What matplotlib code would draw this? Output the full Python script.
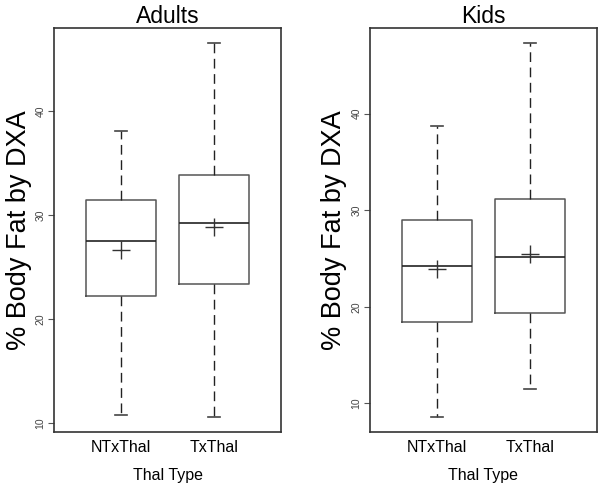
import matplotlib
matplotlib.use('Agg')
import matplotlib.pyplot as plt

plt.rcParams['font.family'] = ['Liberation Sans', 'DejaVu Sans']

# group names and box statistics
groups = ['NTxThal', 'TxThal']

adults_whislo = [10.8, 10.6]
adults_q1 = [22.2, 23.4]
adults_med = [27.5, 29.2]
adults_mean = [26.6, 28.9]
adults_q3 = [31.5, 33.9]
adults_whishi = [38.1, 46.6]

kids_whislo = [8.6, 11.5]
kids_q1 = [18.4, 19.3]
kids_med = [24.2, 25.1]
kids_mean = [23.9, 25.5]
kids_q3 = [29.0, 31.1]
kids_whishi = [38.7, 47.3]

yticks = [10, 20, 30, 40]


def make_stats(lo, q1, med, mean, q3, hi):
    out = []
    for i in range(len(groups)):
        out.append({'label': groups[i], 'whislo': lo[i], 'q1': q1[i], 'med': med[i],
                    'mean': mean[i], 'q3': q3[i], 'whishi': hi[i], 'fliers': []})
    return out


def draw_panel(ax, stats, title, ylim):
    edge = '#555555'
    ax.bxp(stats, positions=[1, 2], widths=0.75, showmeans=True, patch_artist=False,
           boxprops=dict(color=edge, linewidth=1.1),
           medianprops=dict(color='#222222', linewidth=1.2),
           whiskerprops=dict(color='#222222', linewidth=1, linestyle=(0, (7, 4))),
           capprops=dict(color='#444444', linewidth=1.2),
           capwidths=0.12,
           meanprops=dict(marker='+', markersize=13, markeredgecolor='#333333',
                          markeredgewidth=1))
    ax.set_xlim(0.28, 2.72)
    ax.set_ylim(*ylim)
    ax.set_yticks(yticks)
    ax.set_yticklabels([str(t) for t in yticks], rotation=90, va='center',
                       fontsize=7.5, color='#444444')
    ax.tick_params(axis='y', length=4, width=0.8, color='#555555', pad=2)
    ax.tick_params(axis='x', length=0, labelsize=11.5, pad=6)
    ax.set_xticklabels(groups)
    for s in ax.spines.values():
        s.set_color('#333333')
        s.set_linewidth(1.2)
    ax.set_title(title, fontsize=16.5, pad=3)
    ax.set_xlabel('Thal Type', fontsize=11.5, labelpad=9)
    ax.set_ylabel('% Body Fat by DXA', fontsize=19.5, labelpad=3)


fig = plt.figure(figsize=(6.01, 4.87), dpi=100)
ax1 = fig.add_axes([0.0899, 0.1129, 0.3777, 0.8296])
ax2 = fig.add_axes([0.6156, 0.1129, 0.3777, 0.8296])

draw_panel(ax1, make_stats(adults_whislo, adults_q1, adults_med, adults_mean,
                           adults_q3, adults_whishi), 'Adults', (9.13, 48.0))
draw_panel(ax2, make_stats(kids_whislo, kids_q1, kids_med, kids_mean,
                           kids_q3, kids_whishi), 'Kids', (7.03, 48.85))

fig.savefig('out.png', dpi=100)
